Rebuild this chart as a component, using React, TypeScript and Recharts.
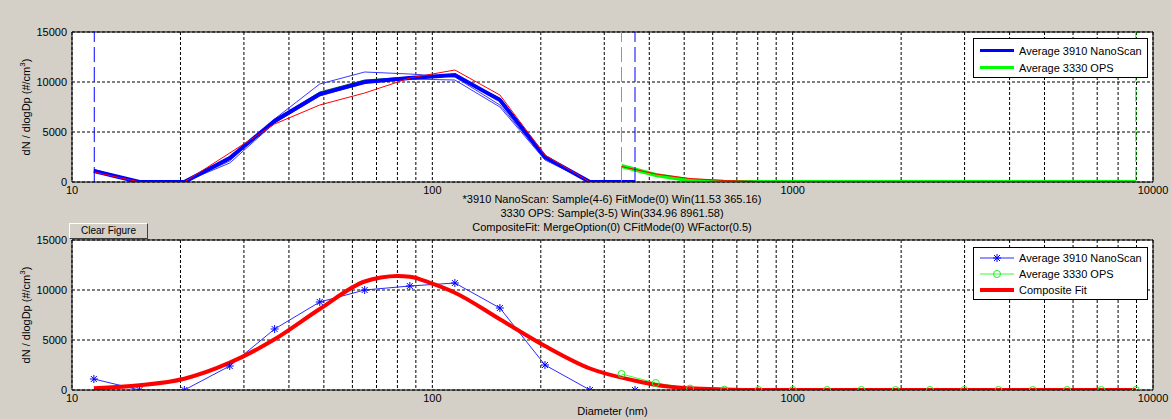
import { LineChart, Line, XAxis, YAxis, CartesianGrid, ReferenceLine, Legend, Label } from "recharts";

// NanoScan channel midpoints (nm) and dN/dlogDp values
const nanoDiam = [11.5, 15.4, 20.5, 27.4, 36.5, 48.7, 64.9, 86.6, 115.5, 154.0, 205.4, 273.8, 365.2];
const nanoAvg = [1100, 0, 0, 2400, 6100, 8800, 10000, 10400, 10700, 8200, 2500, 0, 0];
const nanoRunA = [1250, 0, 0, 2100, 6300, 9800, 11000, 10800, 10500, 7700, 2300, 0, 0];
const nanoRunB = [1000, 0, 0, 1900, 5900, 8600, 9900, 10300, 10200, 7500, 2200, 0, 0];
const nanoRunC = [1150, 0, 0, 2500, 6200, 9000, 10200, 10500, 10600, 8400, 2600, 0, 0];
const nanoRunD = [1000, 0, 0, 2900, 5800, 7700, 8900, 10400, 11200, 8700, 2700, 0, 0];

// OPS channels (nm)
const opsDiam = [334.96, 417, 519, 646, 804, 1001, 1246, 1551, 1931, 2404, 2993, 3726, 4639, 5775, 7189, 8961.58];
const opsAvg = [1600, 700, 150, 30, 0, 0, 0, 0, 0, 0, 0, 0, 0, 0, 0, 0];
const opsRun = [1550, 800, 350, 150, 50, 0, 0, 0, 0, 0, 0, 0, 0, 0, 0, 0];

// composite fit
const fitDiam = [11.5, 15.4, 20.5, 27.4, 36.5, 48.7, 64.9, 72, 80, 86.6, 100, 115.5, 154, 205.4, 273.8, 365.2, 417, 519, 646, 804, 1001, 1246, 1551, 1931, 2404, 2993, 3726, 4639, 5775, 7189, 8961.58];
const fitVal = [170, 470, 1130, 2730, 5070, 8100, 10850, 11250, 11400, 11330, 10630, 9730, 7070, 4400, 2150, 930, 500, 170, 50, 0, 0, 0, 0, 0, 0, 0, 0, 0, 0, 0, 0];

// fit windows
const nanoWin = [11.53, 365.16];
const opsWin = [334.96, 8961.58];

const xTicks = [10, 20, 30, 40, 50, 60, 70, 80, 90, 100, 200, 300, 400, 500, 600, 700, 800, 900, 1000, 2000, 3000, 4000, 5000, 6000, 7000, 8000, 9000, 10000];
const xLabels = [10, 100, 1000, 10000];
const yTicks = [0, 5000, 10000, 15000];

const infoLines = [
    "*3910 NanoScan: Sample(4-6) FitMode(0) Win(11.53 365.16)",
    "3330 OPS: Sample(3-5) Win(334.96 8961.58)",
    "CompositeFit: MergeOption(0) CFitMode(0) WFactor(0.5)",
];

const FONT = "'Liberation Sans', Arial, sans-serif";

const rows = (xs: number[], ys: number[]) => xs.map((d, i) => ({ d, v: ys[i] }));

type LegendItem = { label: string; color: string; width: number; marker?: "star" | "circle" };

const topLegend: LegendItem[] = [
    { label: "Average 3910 NanoScan", color: "#0000ff", width: 3 },
    { label: "Average 3330 OPS", color: "#00ff00", width: 3 },
];
const bottomLegend: LegendItem[] = [
    { label: "Average 3910 NanoScan", color: "#2b2bff", width: 1, marker: "star" },
    { label: "Average 3330 OPS", color: "#33ff33", width: 1, marker: "circle" },
    { label: "Composite Fit", color: "#ff0000", width: 4 },
];

const starPath = (cx: number, cy: number) =>
    `M${cx - 4},${cy}H${cx + 4}M${cx},${cy - 4}V${cy + 4}M${cx - 3},${cy - 3}L${cx + 3},${cy + 3}M${cx - 3},${cy + 3}L${cx + 3},${cy - 3}`;

const StarDot = (props: any) => {
    const { cx, cy, index } = props;
    if (cx == null || cy == null) return <g key={`s-${index}`} />;
    return <path key={`s-${index}`} d={starPath(cx, cy)} stroke="#0000ff" strokeWidth={1} fill="none" />;
};

const LegendBox = ({ items, rowH, padTop }: { items: LegendItem[]; rowH: number; padTop: number }) => (
    <div style={{ background: "#fff", border: "1px solid #000", boxSizing: "border-box", width: 175, padding: `${padTop}px 0 1px 6px`, fontSize: 11, color: "#000", fontFamily: FONT }}>
        {items.map((it) => (
            <div key={it.label} style={{ display: "flex", alignItems: "center", height: rowH }}>
                <svg width={34} height={rowH} style={{ display: "block" }}>
                    <line x1={0} x2={34} y1={rowH / 2} y2={rowH / 2} stroke={it.color} strokeWidth={it.width} />
                    {it.marker === "star" && <path d={starPath(17, rowH / 2)} stroke="#0000ff" fill="none" />}
                    {it.marker === "circle" && <circle cx={17} cy={rowH / 2} r={3.5} stroke="#22ee22" fill="none" />}
                </svg>
                <span style={{ marginLeft: 5, whiteSpace: "nowrap" }}>{it.label}</span>
            </div>
        ))}
    </div>
);

const YTitle = (props: any) => {
    const { viewBox } = props;
    const x = viewBox.x + 16;
    const y = viewBox.y + viewBox.height / 2;
    return (
        <text x={x} y={y} transform={`rotate(-90 ${x} ${y})`} textAnchor="middle" dominantBaseline="central" fontSize={11} fill="#000" fontFamily={FONT}>
            dN / dlogDp (#/cm<tspan dy={-4} fontSize={8}>3</tspan><tspan dy={4}>)</tspan>
        </text>
    );
};

const XTitle = (props: any) => {
    const { viewBox } = props;
    return (
        <text x={viewBox.x + viewBox.width / 2} y={viewBox.y + 21} textAnchor="middle" dominantBaseline="central" fontSize={11} fill="#000" fontFamily={FONT}>
            Diameter (nm)
        </text>
    );
};

const fmtX = (v: number) => (xLabels.includes(v) ? String(v) : "");

const axisTick = { fill: "#000", fontSize: 11, fontFamily: FONT };

const xAxisEl = (h: number, withTitle: boolean) => (
    <XAxis dataKey="d" type="number" scale="log" domain={[10, 10000]} ticks={xTicks} interval={0} allowDataOverflow
        tickFormatter={fmtX} tickLine={false} tickSize={2} tickMargin={2} height={h}
        axisLine={{ stroke: "#000" }} tick={axisTick}>
        {withTitle && <Label content={<XTitle />} />}
    </XAxis>
);

const yAxisEl = () => (
    <YAxis type="number" domain={[0, 15000]} ticks={yTicks} interval={0} allowDataOverflow
        tickLine={false} tickSize={3} tickMargin={2} width={62}
        axisLine={{ stroke: "#000" }} tick={axisTick}>
        <Label content={<YTitle />} />
    </YAxis>
);

export default function App() {
    return (
        <div style={{ position: "absolute", left: 0, top: 0, width: 1171, height: 419, background: "#d4d0c8", fontFamily: FONT, overflow: "hidden" }}>
            <div style={{ position: "absolute", left: 0, top: 0 }}>
                <LineChart width={1171} height={200} margin={{ top: 32, right: 18, bottom: 0, left: 10 }}>
                    <CartesianGrid fill="#fff" stroke="#000" strokeDasharray="3 2" />
                    {xAxisEl(18, false)}
                    {yAxisEl()}
                    <ReferenceLine y={15000} stroke="#000" />
                    <ReferenceLine x={10000} stroke="#000" />
                    <Line data={rows(nanoDiam, nanoRunA)} dataKey="v" type="linear" stroke="#3a3aff" strokeWidth={1} dot={false} isAnimationActive={false} />
                    <Line data={rows(nanoDiam, nanoRunB)} dataKey="v" type="linear" stroke="#3a3aff" strokeWidth={1} dot={false} isAnimationActive={false} />
                    <Line data={rows(nanoDiam, nanoRunC)} dataKey="v" type="linear" stroke="#008000" strokeWidth={1} dot={false} isAnimationActive={false} />
                    <Line data={rows(opsDiam, opsAvg)} dataKey="v" type="linear" stroke="#00ff00" strokeWidth={4} dot={false} isAnimationActive={false} />
                    <Line data={rows(nanoDiam, nanoAvg)} dataKey="v" type="linear" stroke="#0000ff" strokeWidth={4} dot={false} isAnimationActive={false} />
                    <Line data={rows(nanoDiam, nanoRunD)} dataKey="v" type="linear" stroke="#ff0000" strokeWidth={1} dot={false} isAnimationActive={false} />
                    <Line data={rows(opsDiam, opsRun)} dataKey="v" type="linear" stroke="#ff0000" strokeWidth={1} dot={false} isAnimationActive={false} />
                    <ReferenceLine x={nanoWin[0]} stroke="#0000ff" strokeDasharray="15 5" />
                    <ReferenceLine x={nanoWin[1]} stroke="#0000ff" strokeDasharray="15 5" />
                    <ReferenceLine x={opsWin[0]} stroke="#00ff00" strokeDasharray="15 5" />
                    <ReferenceLine x={opsWin[1]} stroke="#00ff00" strokeDasharray="15 5" />
                    <Legend layout="vertical" align="center" verticalAlign="middle"
                        wrapperStyle={{ left: 973, top: 38, width: 175, height: 38 }}
                        content={() => <LegendBox items={topLegend} rowH={17} padTop={3} />} />
                </LineChart>
            </div>

            <div style={{ position: "absolute", left: 0, top: 200 }}>
                <LineChart width={1171} height={219} margin={{ top: 40, right: 18, bottom: 0, left: 10 }}>
                    <CartesianGrid fill="#fff" stroke="#000" strokeDasharray="3 2" />
                    {xAxisEl(29, true)}
                    {yAxisEl()}
                    <ReferenceLine y={15000} stroke="#000" />
                    <ReferenceLine x={10000} stroke="#000" />
                    <Line data={rows(nanoDiam, nanoAvg)} dataKey="v" type="linear" stroke="#2b2bff" strokeWidth={1} dot={StarDot} isAnimationActive={false} />
                    <Line data={rows(opsDiam, opsAvg)} dataKey="v" type="linear" stroke="#33ff33" strokeWidth={1} dot={false} isAnimationActive={false} />
                    <Line data={rows(fitDiam, fitVal)} dataKey="v" type="monotone" stroke="#ff0000" strokeWidth={4} dot={false} isAnimationActive={false} />
                    <Line data={rows(opsDiam, opsAvg)} dataKey="v" type="linear" stroke="none" dot={{ r: 3.5, fill: "none", stroke: "#22ee22", strokeWidth: 1 }} isAnimationActive={false} />
                    <Legend layout="vertical" align="center" verticalAlign="middle"
                        wrapperStyle={{ left: 973, top: 47, width: 175, height: 53 }}
                        content={() => <LegendBox items={bottomLegend} rowH={16} padTop={2} />} />
                </LineChart>
            </div>

            <div style={{ position: "absolute", left: 312, top: 192, width: 600, textAlign: "center", fontSize: 11, lineHeight: "14px", color: "#000" }}>
                {infoLines.map((t) => <div key={t}>{t}</div>)}
            </div>

            <div style={{ position: "absolute", left: 69, top: 223, width: 79, height: 16, boxSizing: "border-box", borderTop: "1px solid #fff", borderLeft: "1px solid #fff", borderRight: "1px solid #404040", borderBottom: "1px solid #404040", background: "#d4d0c8", fontSize: 10, lineHeight: "14px", textAlign: "center", color: "#000" }}>
                Clear Figure
            </div>
        </div>
    );
}
